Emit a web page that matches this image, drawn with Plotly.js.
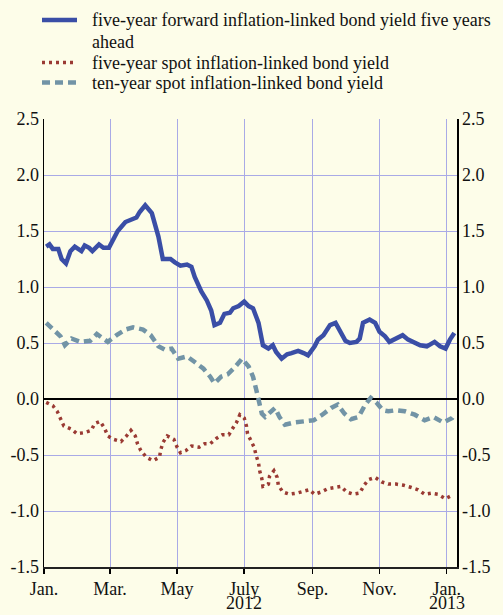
<!DOCTYPE html>
<html>
<head>
<meta charset="utf-8">
<script src="https://cdn.plot.ly/plotly-3.0.1.min.js"></script>
<style>html,body{margin:0;padding:0;background:#fdfde9;}#chart{width:503px;height:615px;}</style>
</head>
<body>
<div id="chart"></div>
<script>
// Five-year forward inflation-linked bond yield five years ahead
const fwdDates = ['2012-01-03','2012-01-06','2012-01-09','2012-01-14','2012-01-17','2012-01-21','2012-01-25','2012-01-29','2012-02-04','2012-02-07','2012-02-11','2012-02-14','2012-02-20','2012-02-24','2012-02-29','2012-03-04','2012-03-08','2012-03-15','2012-03-19','2012-03-25','2012-03-28','2012-04-02','2012-04-08','2012-04-14','2012-04-18','2012-04-25','2012-04-29','2012-05-04','2012-05-10','2012-05-14','2012-05-17','2012-05-23','2012-05-28','2012-06-01','2012-06-04','2012-06-09','2012-06-13','2012-06-18','2012-06-21','2012-06-26','2012-07-01','2012-07-05','2012-07-09','2012-07-14','2012-07-18','2012-07-23','2012-07-27','2012-07-30','2012-08-04','2012-08-09','2012-08-13','2012-08-19','2012-08-24','2012-08-28','2012-09-03','2012-09-06','2012-09-11','2012-09-17','2012-09-22','2012-09-26','2012-10-01','2012-10-05','2012-10-11','2012-10-14','2012-10-17','2012-10-23','2012-10-28','2012-11-01','2012-11-06','2012-11-10','2012-11-17','2012-11-22','2012-11-27','2012-12-02','2012-12-08','2012-12-14','2012-12-21','2012-12-26','2012-12-31','2013-01-04','2013-01-08'];
const fwdValues = [1.36,1.38,1.34,1.34,1.25,1.21,1.32,1.36,1.32,1.37,1.35,1.32,1.38,1.35,1.35,1.42,1.50,1.58,1.60,1.62,1.67,1.73,1.66,1.45,1.25,1.25,1.22,1.19,1.20,1.18,1.09,0.96,0.88,0.79,0.66,0.68,0.76,0.77,0.81,0.83,0.87,0.83,0.81,0.68,0.48,0.45,0.48,0.42,0.36,0.40,0.41,0.43,0.41,0.39,0.47,0.53,0.57,0.66,0.68,0.60,0.52,0.50,0.51,0.54,0.68,0.71,0.68,0.60,0.56,0.51,0.55,0.57,0.53,0.51,0.48,0.47,0.51,0.47,0.45,0.53,0.59];

// Five-year spot inflation-linked bond yield
const spot5Dates = ['2012-01-03','2012-01-09','2012-01-13','2012-01-16','2012-01-19','2012-01-26','2012-01-31','2012-02-07','2012-02-13','2012-02-16','2012-02-21','2012-02-25','2012-02-28','2012-03-04','2012-03-11','2012-03-16','2012-03-20','2012-03-24','2012-03-26','2012-03-29','2012-04-03','2012-04-09','2012-04-15','2012-04-16','2012-04-18','2012-04-22','2012-04-28','2012-05-01','2012-05-04','2012-05-09','2012-05-14','2012-05-21','2012-05-26','2012-05-31','2012-06-06','2012-06-11','2012-06-17','2012-06-20','2012-06-24','2012-06-27','2012-07-01','2012-07-03','2012-07-04','2012-07-07','2012-07-10','2012-07-12','2012-07-14','2012-07-15','2012-07-17','2012-07-18','2012-07-23','2012-07-24','2012-07-28','2012-07-31','2012-08-01','2012-08-05','2012-08-11','2012-08-18','2012-08-24','2012-08-29','2012-09-03','2012-09-09','2012-09-15','2012-09-21','2012-09-27','2012-10-02','2012-10-08','2012-10-14','2012-10-18','2012-10-22','2012-10-28','2012-11-03','2012-11-09','2012-11-16','2012-11-23','2012-11-30','2012-12-06','2012-12-12','2012-12-18','2012-12-24','2012-12-31','2013-01-06'];
const spot5Values = [-0.03,-0.06,-0.11,-0.18,-0.24,-0.27,-0.31,-0.30,-0.28,-0.22,-0.20,-0.26,-0.33,-0.36,-0.38,-0.33,-0.28,-0.33,-0.40,-0.46,-0.52,-0.55,-0.52,-0.46,-0.39,-0.33,-0.36,-0.43,-0.48,-0.46,-0.42,-0.43,-0.40,-0.40,-0.35,-0.32,-0.32,-0.27,-0.21,-0.14,-0.17,-0.24,-0.31,-0.37,-0.43,-0.51,-0.57,-0.64,-0.71,-0.78,-0.76,-0.69,-0.64,-0.70,-0.77,-0.83,-0.85,-0.84,-0.82,-0.81,-0.85,-0.83,-0.80,-0.79,-0.78,-0.83,-0.85,-0.84,-0.77,-0.72,-0.70,-0.74,-0.76,-0.76,-0.77,-0.79,-0.81,-0.85,-0.84,-0.85,-0.89,-0.86];

// Ten-year spot inflation-linked bond yield
const spot10Dates = ['2012-01-03','2012-01-09','2012-01-16','2012-01-20','2012-01-26','2012-02-03','2012-02-12','2012-02-18','2012-02-24','2012-02-28','2012-03-07','2012-03-15','2012-03-22','2012-03-31','2012-04-07','2012-04-14','2012-04-20','2012-04-26','2012-05-02','2012-05-10','2012-05-17','2012-05-25','2012-05-31','2012-06-04','2012-06-10','2012-06-16','2012-06-23','2012-06-29','2012-07-05','2012-07-09','2012-07-12','2012-07-17','2012-07-20','2012-07-24','2012-07-29','2012-08-02','2012-08-07','2012-08-15','2012-08-24','2012-09-02','2012-09-10','2012-09-18','2012-09-24','2012-09-30','2012-10-06','2012-10-13','2012-10-19','2012-10-24','2012-10-29','2012-11-04','2012-11-09','2012-11-16','2012-11-24','2012-12-03','2012-12-12','2012-12-20','2012-12-29','2013-01-06','2013-01-08'];
const spot10Values = [0.68,0.63,0.56,0.48,0.54,0.51,0.52,0.58,0.54,0.51,0.57,0.62,0.64,0.62,0.57,0.47,0.44,0.45,0.36,0.38,0.33,0.27,0.20,0.14,0.20,0.22,0.29,0.36,0.29,0.20,0.08,-0.13,-0.16,-0.13,-0.08,-0.16,-0.23,-0.21,-0.20,-0.19,-0.14,-0.08,-0.05,-0.13,-0.18,-0.16,-0.05,0.01,-0.03,-0.10,-0.11,-0.10,-0.11,-0.14,-0.19,-0.16,-0.21,-0.17,-0.14];

// Legend texts (first entry wraps onto two lines in the reference)
const legendLines = [
  ['five-year forward inflation-linked bond yield five years', 'ahead'],
  ['five-year spot inflation-linked bond yield'],
  ['ten-year spot inflation-linked bond yield']
];
const seriesNames = legendLines.map(l => l.join(' '));

const xTickVals = ['2012-01-01','2012-03-01','2012-05-01','2012-07-01','2012-09-01','2012-11-01','2013-01-01'];
const xTickText = ['Jan.','Mar.','May','July','Sep.','Nov.','Jan.'];
const yearLabels = [['2012-07-01','2012'], ['2013-01-01','2013']];
const yTickVals = [-1.5,-1.0,-0.5,0.0,0.5,1.0,1.5,2.0,2.5];
const yTickText = ['-1.5','-1.0','-0.5','0.0','0.5','1.0','1.5','2.0','2.5'];

const bg = '#fdfde9';
const gridC = '#a9aae6';
const fontFam = '"Liberation Serif", "Times New Roman", serif';
const colors = ['#3a4ea6', '#9a3a33', '#7294a6'];
const lineStyles = [
  {color: colors[0], width: 4.5},
  {color: colors[1], width: 3.5, dash: '3px,4px'},
  {color: colors[2], width: 4.5, dash: '8px,5px'}
];

const traces = [
  {x: fwdDates, y: fwdValues, name: seriesNames[0], type: 'scatter', mode: 'lines', line: lineStyles[0], hoverinfo: 'skip'},
  {x: spot5Dates, y: spot5Values, name: seriesNames[1], type: 'scatter', mode: 'lines', line: lineStyles[1], hoverinfo: 'skip'},
  {x: spot10Dates, y: spot10Values, name: seriesNames[2], type: 'scatter', mode: 'lines', line: lineStyles[2], hoverinfo: 'skip'},
  {x: [fwdDates[0]], y: [fwdValues[0]], yaxis: 'y2', type: 'scatter', mode: 'lines',
   showlegend: false, hoverinfo: 'skip', line: {color: 'rgba(0,0,0,0)'}}
];

// Legend drawn with paper-referenced shapes and annotations (pixel layout -> paper units)
const plotL = 44, plotR = 457, plotT = 119, plotB = 567;
const px = v => (v - plotL) / (plotR - plotL);
const py = v => (plotB - v) / (plotB - plotT);
const legendRowY = [[20, 42.5], [62.5], [82.5]];
const shapes = [];
const annotations = [];
legendRowY.forEach((rows, i) => {
  shapes.push({type: 'line', xref: 'paper', yref: 'paper', x0: px(42), x1: px(77), y0: py(rows[0]), y1: py(rows[0]), line: lineStyles[i]});
  rows.forEach((yy, j) => {
    annotations.push({xref: 'paper', yref: 'paper', x: px(90), y: py(yy), xanchor: 'left', yanchor: 'middle',
      showarrow: false, text: legendLines[i][j], font: {family: fontFam, size: 18, color: '#111'}});
  });
});
yearLabels.forEach(([d, t]) => {
  annotations.push({xref: 'x', yref: 'paper', x: d, y: py(603), xanchor: 'center', yanchor: 'middle',
    showarrow: false, borderpad: 0, text: t, font: {family: fontFam, size: 18, color: '#111'}});
});

const yCommon = {
  range: [-1.5, 2.5], tickmode: 'array', tickvals: yTickVals, ticktext: yTickText,
  showline: true, linecolor: '#000', linewidth: 1.5, ticks: '',
  tickfont: {family: fontFam, size: 18, color: '#111'}, fixedrange: true
};

const layout = {
  width: 503, height: 615,
  margin: {l: 44, r: 46, t: 119, b: 48, pad: 0, autoexpand: false},
  paper_bgcolor: bg, plot_bgcolor: bg,
  font: {family: fontFam, size: 18, color: '#111'},
  showlegend: false,
  shapes: shapes,
  annotations: annotations,
  xaxis: {
    type: 'date', range: ['2012-01-01', '2013-01-10 10:00'],
    tickmode: 'array', tickvals: xTickVals, ticktext: xTickText,
    showgrid: true, gridcolor: gridC, gridwidth: 1,
    showline: true, linecolor: '#222', linewidth: 1.5,
    ticks: 'outside', ticklen: 5, tickcolor: '#000', tickwidth: 1.5,
    tickfont: {family: fontFam, size: 18, color: '#111'}, fixedrange: true
  },
  yaxis: Object.assign({}, yCommon, {
    side: 'left', showgrid: true, gridcolor: gridC, gridwidth: 1,
    zeroline: true, zerolinecolor: '#000', zerolinewidth: 1.5
  }),
  yaxis2: Object.assign({}, yCommon, {
    side: 'right', overlaying: 'y', showgrid: false, zeroline: false
  })
};

Plotly.newPlot('chart', traces, layout, {staticPlot: true, displayModeBar: false});
</script>
</body>
</html>
